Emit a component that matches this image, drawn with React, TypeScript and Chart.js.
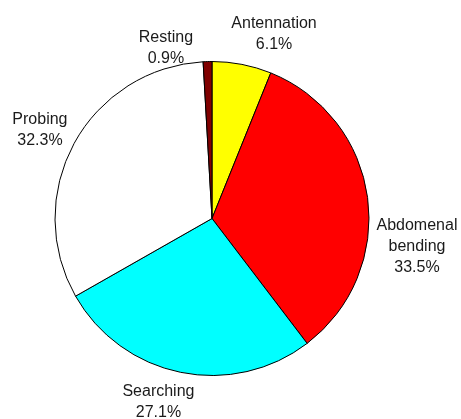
import React, { useEffect, useRef } from "react";
import { Chart, registerables } from "chart.js";

Chart.register(...registerables);

const categories = ["Antennation", "Abdomenal bending", "Searching", "Probing", "Resting"];
const percents = [6.1, 33.5, 27.1, 32.3, 0.9];
const sliceColors = ["#FFFF00", "#FF0000", "#00FFFF", "#FFFFFF", "#800000"];

// label placement relative to each slice: [angle nudge in degrees, extra distance beyond radius]
const labelLayout: [number, number][] = [
  [7.6, 37.6],
  [15.5, 49.9],
  [4.7, 34.6],
  [-1.4, 36.4],
  [-13.5, 19.6],
];

const LINE_H = 21;

const outsideLabels = {
  id: "outsideLabels",
  afterDatasetsDraw(chart: any) {
    const ctx = chart.ctx;
    const meta = chart.getDatasetMeta(0);
    ctx.save();
    ctx.font = "16px 'Liberation Sans', Arial, sans-serif";
    ctx.fillStyle = "#1a1a1a";
    ctx.textAlign = "center";
    ctx.textBaseline = "middle";
    meta.data.forEach((arc: any, i: number) => {
      const { x, y, startAngle, endAngle, outerRadius } = arc.getProps(
        ["x", "y", "startAngle", "endAngle", "outerRadius"],
        true
      );
      const [nudge, extra] = labelLayout[i];
      const a = (startAngle + endAngle) / 2 + (nudge * Math.PI) / 180;
      const d = outerRadius + extra;
      const cx = x + d * Math.cos(a);
      const cy = y + d * Math.sin(a);
      const lines = [...categories[i].split(" "), percents[i].toFixed(1) + "%"];
      const top = cy - ((lines.length - 1) * LINE_H) / 2;
      lines.forEach((t, k) => ctx.fillText(t, cx, top + k * LINE_H));
    });
    ctx.restore();
  },
};

export default function App() {
  const ref = useRef<HTMLCanvasElement | null>(null);
  useEffect(() => {
    if (!ref.current) return;
    const chart = new Chart(ref.current, {
      type: "pie",
      data: {
        labels: categories,
        datasets: [
          {
            data: percents,
            backgroundColor: sliceColors,
            borderColor: "#000000",
            borderWidth: 1,
          },
        ],
      },
      options: {
        responsive: false,
        animation: false,
        layout: { padding: { left: 54.5, right: 91.5, top: 61, bottom: 43 } },
        plugins: {
          legend: { display: false },
          tooltip: { enabled: false },
        },
      },
      plugins: [outsideLabels],
    });
    return () => chart.destroy();
  }, []);
  return (
    <div style={{ position: "absolute", left: 0, top: 0, width: 461, height: 419, background: "#fff" }}>
      <canvas ref={ref} width={461} height={419} style={{ display: "block" }} />
    </div>
  );
}
